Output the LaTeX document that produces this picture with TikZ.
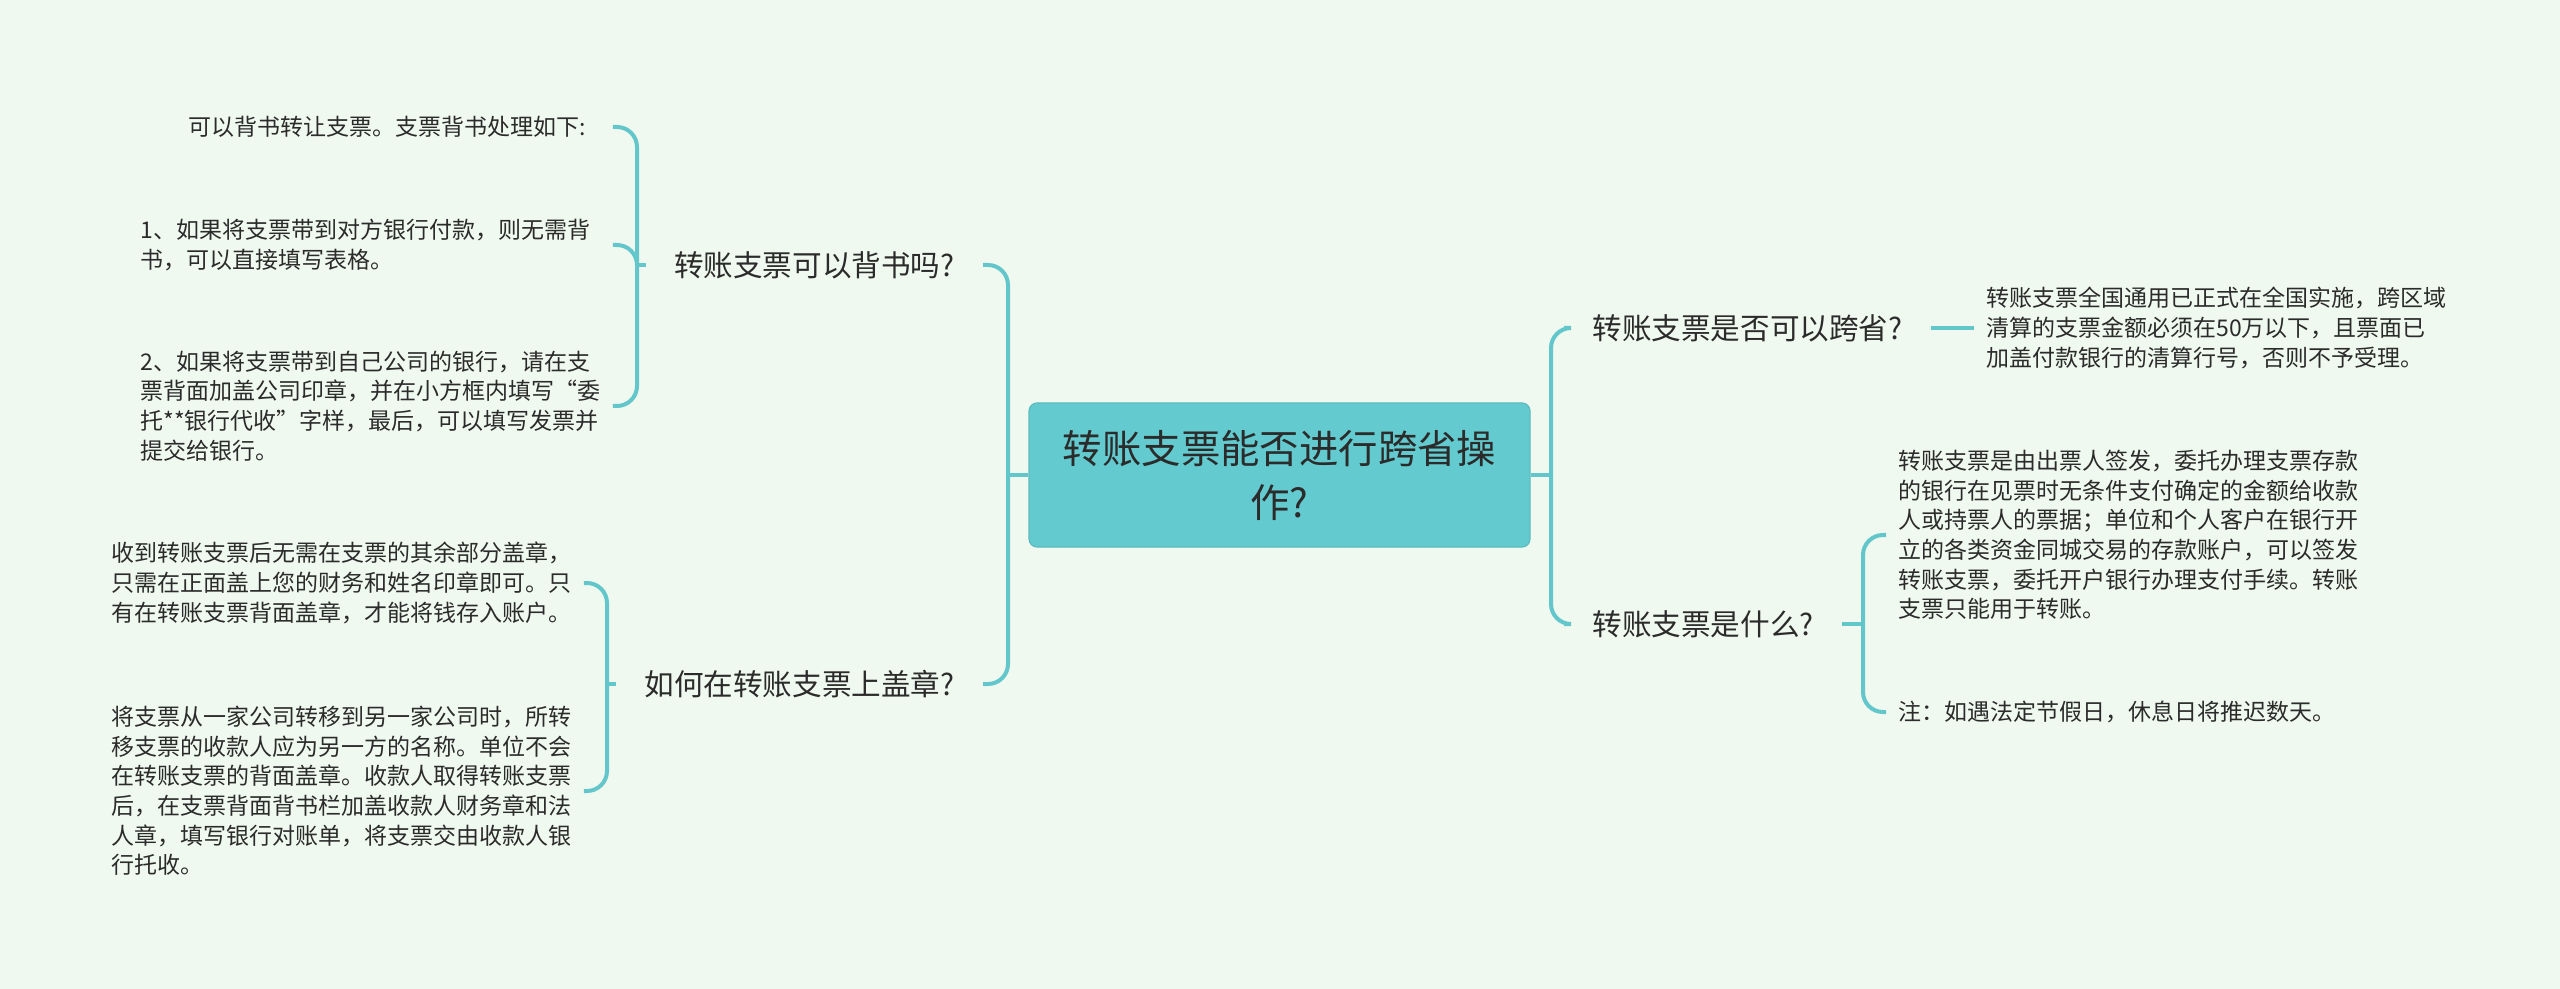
\documentclass[tikz,border=0pt]{standalone}
\usepackage{fontspec}
\setmainfont{Noto Sans CJK SC}
\usepackage{xcolor}
\usetikzlibrary{positioning}
\definecolor{bgmint}{HTML}{F0F9F0}
\definecolor{linkteal}{HTML}{63C6CB}
\definecolor{rootteal}{HTML}{63CBCF}
\definecolor{inkgray}{HTML}{2B2B2B}

\begin{document}
\begin{tikzpicture}[x=0.5pt, y=-0.5pt,
  link/.style={draw=linkteal, line width=2pt, rounded corners=10pt},
  leaf/.style={anchor=west, inner xsep=6pt, inner ysep=2pt, text width=230pt, align=left,
    text=inkgray, font=\fontsize{11.5}{14.8}\selectfont},
  topic/.style={inner xsep=14pt, text=inkgray, font=\fontsize{14.8}{18}\selectfont},
  rootbox/.style={fill=rootteal, draw=rootteal!92!black, line width=0.6pt, rounded corners=4pt,
    align=center, minimum width=250.5pt, minimum height=72pt, text=inkgray,
    font=\fontsize{19.7}{27}\selectfont}]
  \fill[bgmint] (0,0) rectangle (2560,989);
  \useasboundingbox (0,0) rectangle (2560,989);

  % Centre
  \node[rootbox] (root) at (1279.5,475) {转账支票能否进行跨省操\\作?};

  % Left side
  \node[topic, anchor=east] (endorse) at (983,265) {转账支票可以背书吗?};
  \node[topic, anchor=east] (stamp) at (983,684) {如何在转账支票上盖章?};
  \coordinate (lhub) at (1008,475);
  \draw[link] (root.west) -- (lhub);
  \draw[link] (endorse.east) -| (lhub) |- (stamp.east);

  \node[leaf] (e1) at (128,127) {\hspace*{2.1em}可以背书转让支票。支票背书处理如下:};
  \node[leaf] (e2) at (128,245) {1、如果将支票带到对方银行付款，则无需背\\书，可以直接填写表格。};
  \node[leaf] (e3) at (128,406) {2、如果将支票带到自己公司的银行，请在支\\票背面加盖公司印章，并在小方框内填写“委\\托**银行代收”字样，最后，可以填写发票并\\提交给银行。};
  \coordinate (ehub) at (637,265);
  \draw[link] (ehub) -- (endorse.west);
  \draw[link] (e1.east) -| (ehub) |- (e3.east);
  \draw[link] (e2.east) -| (ehub);

  \node[leaf] (s1) at (99,583) {收到转账支票后无需在支票的其余部分盖章，\\只需在正面盖上您的财务和姓名印章即可。只\\有在转账支票背面盖章，才能将钱存入账户。};
  \node[leaf] (s2) at (99,791) {将支票从一家公司转移到另一家公司时，所转\\移支票的收款人应为另一方的名称。单位不会\\在转账支票的背面盖章。收款人取得转账支票\\后，在支票背面背书栏加盖收款人财务章和法\\人章，填写银行对账单，将支票交由收款人银\\行托收。};
  \coordinate (shub) at (607,684);
  \draw[link] (shub) -- (stamp.west);
  \draw[link] (s1.east) -| (shub) |- (s2.east);

  % Right side
  \node[topic, anchor=west] (cross) at (1564,328) {转账支票是否可以跨省?};
  \node[topic, anchor=west] (whatis) at (1564,624) {转账支票是什么?};
  \coordinate (rhub) at (1551,475);
  \draw[link] (root.east) -- (rhub);
  \draw[link] (cross.west) -| (rhub) |- (whatis.west);

  \node[leaf] (c1) at (1974,328) {转账支票全国通用已正式在全国实施，跨区域\\清算的支票金额必须在50万以下，且票面已\\加盖付款银行的清算行号，否则不予受理。};
  \draw[link] (cross.east) -- (c1.west);

  \node[leaf] (w1) at (1886,535) {转账支票是由出票人签发，委托办理支票存款\\的银行在见票时无条件支付确定的金额给收款\\人或持票人的票据；单位和个人客户在银行开\\立的各类资金同城交易的存款账户，可以签发\\转账支票，委托开户银行办理支付手续。转账\\支票只能用于转账。};
  \node[leaf] (w2) at (1886,712) {注：如遇法定节假日，休息日将推迟数天。};
  \coordinate (whub) at (1863,624);
  \draw[link] (whatis.east) -- (whub);
  \draw[link] (w1.west) -| (whub) |- (w2.west);
\end{tikzpicture}
\end{document}
